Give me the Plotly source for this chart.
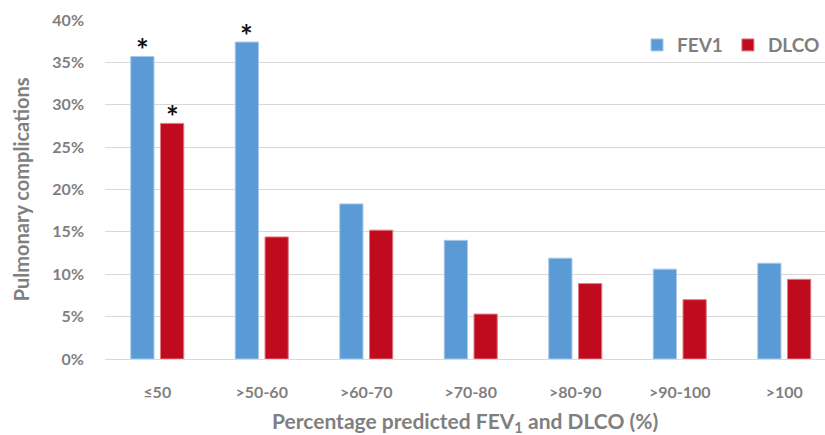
import plotly.graph_objects as go

# Percentage predicted bins and complication rates (%)
categories = ["≤50", ">50-60", ">60-70", ">70-80", ">80-90", ">90-100", ">100"]
fev1 = [35.7, 37.4, 18.3, 14.0, 11.9, 10.6, 11.3]
dlco = [27.8, 14.4, 15.2, 5.3, 8.9, 7.0, 9.4]
# Bars flagged as significant (marked with an asterisk)
fev1_sig = [True, True, False, False, False, False, False]
dlco_sig = [True, False, False, False, False, False, False]

BLUE = "#5b9bd5"
RED = "#c00a1e"
GRAY = "#7f7f7f"
FONT = "Lato"

fig = go.Figure()
fig.add_trace(go.Bar(name="FEV1", x=categories, y=fev1, marker=dict(color=BLUE, line=dict(color="#a9c8e8", width=1))))
fig.add_trace(go.Bar(name="DLCO", x=categories, y=dlco, marker=dict(color=RED, line=dict(color="#e07a84", width=1))))

annotations = []
for i, cat in enumerate(categories):
    for sig, vals, shift in ((fev1_sig, fev1, -15), (dlco_sig, dlco, 15)):
        if sig[i]:
            annotations.append(dict(
                x=cat, y=vals[i], xref="x", yref="y", text="*", showarrow=False,
                xshift=shift, yshift=-13, yanchor="bottom",
                font=dict(family=FONT, size=30, color="#111111", weight="bold")))

annotations.append(dict(
    x=0.5, y=-0.186, xref="paper", yref="paper", yanchor="middle",
    text="Percentage predicted FEV<sub>1</sub> and DLCO (%)", showarrow=False,
    font=dict(family=FONT, size=21, color=GRAY, weight="bold")))
annotations.append(dict(
    x=-0.117, y=0.5, xref="paper", yref="paper", xanchor="center", textangle=-90,
    text="Pulmonary complications", showarrow=False,
    font=dict(family=FONT, size=20, color=GRAY, weight="bold")))

fig.update_layout(
    width=825, height=435,
    margin=dict(l=105, r=0, t=20, b=76),
    paper_bgcolor="white", plot_bgcolor="white",
    barmode="group", bargap=0.43, bargroupgap=0.22,
    font=dict(family=FONT, size=16, color=GRAY, weight="bold"),
    legend=dict(orientation="h", x=1.0, xanchor="right", y=0.926, yanchor="middle",
                font=dict(family=FONT, size=19, color=GRAY, weight="bold"),
                bgcolor="rgba(0,0,0,0)", itemwidth=30),
    annotations=annotations,
    showlegend=True,
)
fig.update_xaxes(range=[-0.5, 6.39], showgrid=False, zeroline=False, showline=False,
                 ticks="", ticklabelstandoff=22,
                 tickfont=dict(family=FONT, size=16, color=GRAY, weight="bold"))
fig.update_yaxes(range=[0, 40], dtick=5, ticksuffix="%", showgrid=True, gridcolor="#d9d9d9",
                 gridwidth=1, zeroline=True, zerolinecolor="#d9d9d9", zerolinewidth=1,
                 showline=False, ticks="", ticklabelstandoff=20,
                 tickfont=dict(family=FONT, size=16, color=GRAY, weight="bold"))

fig.write_html("out.html")
